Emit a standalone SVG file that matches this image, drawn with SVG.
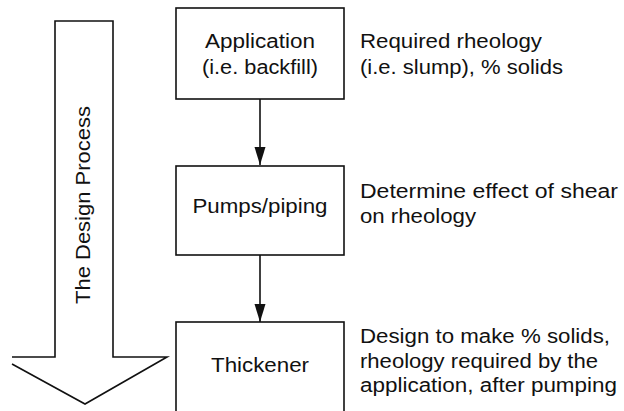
<svg xmlns="http://www.w3.org/2000/svg" width="624" height="411" viewBox="0 0 624 411">
<style>
text{font-family:"Liberation Sans",Arial,sans-serif;font-size:20px;fill:#111}
.c{text-anchor:middle}
.box{fill:#fff;stroke:#111;stroke-width:1.6}
.ln{stroke:#111;stroke-width:1.6;fill:none}
</style>
<defs>
<marker id="ah" markerWidth="12" markerHeight="17" refX="11" refY="6" orient="auto" markerUnits="userSpaceOnUse" viewBox="0 0 12 17">
<path d="M0,0.5 L11,6 L0,11.5 Z" fill="#111"/>
</marker>
</defs>
<rect width="624" height="411" fill="#fff"/>
<g id="process-arrow">
<path class="ln" d="M12,357 H55 V21 H113 V357 H167 L85,404 L12,364"/>
<text transform="translate(90,205) rotate(-90)" class="c" textLength="198" lengthAdjust="spacingAndGlyphs">The Design Process</text>
</g>
<g id="connectors">
<line class="ln" x1="260" y1="99" x2="260" y2="165"/>
<path d="M254.5,147 L265.5,147 L260,165 Z" fill="#111"/>
<line class="ln" x1="260" y1="255" x2="260" y2="322"/>
<path d="M254.5,304 L265.5,304 L260,322 Z" fill="#111"/>
</g>
<g id="application">
<rect class="box" x="176" y="8" width="168" height="91"/>
<text x="260" y="48" class="c" textLength="110" lengthAdjust="spacingAndGlyphs">Application</text>
<text x="260" y="74" class="c" textLength="116" lengthAdjust="spacingAndGlyphs">(i.e. backfill)</text>
</g>
<g id="pumps">
<rect class="box" x="176" y="166" width="168" height="89"/>
<text x="260" y="213" class="c" textLength="135" lengthAdjust="spacingAndGlyphs">Pumps/piping</text>
</g>
<g id="thickener">
<rect class="box" x="176" y="322" width="168" height="92"/>
<text x="260" y="372" class="c" textLength="98" lengthAdjust="spacingAndGlyphs">Thickener</text>
</g>
<g id="notes">
<text x="360" y="47.5" textLength="182" lengthAdjust="spacingAndGlyphs">Required rheology</text>
<text x="360" y="73.5" textLength="203" lengthAdjust="spacingAndGlyphs">(i.e. slump), % solids</text>
<text x="360" y="197.5" textLength="258" lengthAdjust="spacingAndGlyphs">Determine effect of shear</text>
<text x="360" y="223" textLength="116" lengthAdjust="spacingAndGlyphs">on rheology</text>
<text x="360" y="343" textLength="250" lengthAdjust="spacingAndGlyphs">Design to make % solids,</text>
<text x="360" y="367.5" textLength="238" lengthAdjust="spacingAndGlyphs">rheology required by the</text>
<text x="360" y="392" textLength="257" lengthAdjust="spacingAndGlyphs">application, after pumping</text>
</g>
</svg>
